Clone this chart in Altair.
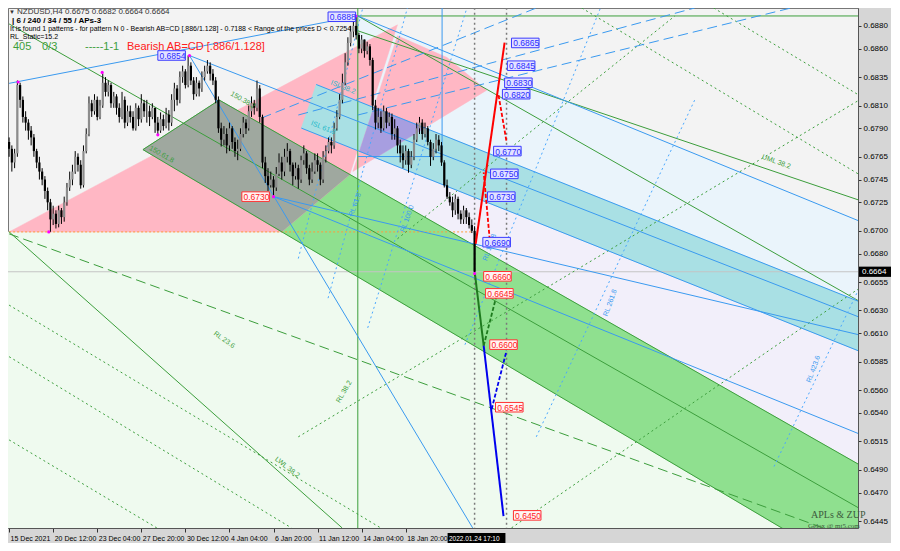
import altair as alt
import pandas as pd

# ---------------- candle data (price x 1e-4), H4 bars, index 0 = 15 Dec 2021 ----------------
FIRST_OPEN = 6778
CLOSE = [6772,6760,6768,6828,6815,6800,6795,6788,6782,6770,
         6760,6752,6745,6735,6725,6710,6715,6706,6718,6712,
         6725,6738,6745,6752,6765,6758,6740,6770,6785,6812,
         6805,6815,6800,6810,6830,6822,6828,6812,6818,6808,
         6800,6815,6795,6805,6800,6790,6808,6798,6812,6805,
         6805,6800,6808,6795,6788,6798,6792,6802,6795,6815,
         6825,6815,6835,6840,6828,6845,6832,6820,6830,6825,
         6835,6840,6845,6838,6832,6815,6790,6780,6785,6775,
         6790,6778,6770,6772,6785,6795,6790,6805,6812,6808,
         6825,6800,6760,6748,6740,6745,6738,6750,6760,6752,
         6765,6770,6758,6748,6755,6745,6762,6768,6755,6745,
         6752,6762,6758,6745,6765,6770,6778,6775,6790,6800,
         6815,6830,6848,6865,6875,6880,6872,6860,6868,6858,
         6862,6850,6810,6795,6800,6790,6805,6795,6800,6785,
         6790,6775,6768,6762,6770,6758,6765,6780,6790,6795,
         6785,6790,6778,6765,6772,6780,6775,6760,6740,6730,
         6725,6718,6728,6715,6710,6718,6712,6705,6700,6664]
HIGH = [6782,6775,6772,6832,6830,6818,6805,6798,6792,6785,
        6772,6765,6755,6748,6738,6728,6722,6718,6722,6720,
        6730,6742,6752,6758,6770,6768,6762,6775,6790,6818,
        6815,6820,6818,6815,6838,6835,6832,6830,6822,6820,
        6812,6822,6818,6810,6810,6805,6812,6810,6820,6815,
        6815,6810,6812,6808,6800,6804,6802,6808,6806,6820,
        6830,6828,6840,6845,6842,6854,6848,6835,6835,6832,
        6840,6845,6850,6848,6842,6835,6818,6795,6792,6790,
        6795,6792,6782,6780,6790,6800,6798,6810,6818,6815,
        6832,6828,6802,6765,6755,6752,6748,6756,6768,6765,
        6772,6777,6772,6760,6760,6758,6766,6775,6770,6758,
        6760,6768,6768,6760,6770,6775,6782,6782,6795,6806,
        6820,6838,6856,6870,6880,6884,6888,6874,6872,6868,
        6866,6864,6852,6815,6808,6805,6810,6808,6804,6803,
        6798,6792,6780,6775,6775,6772,6770,6785,6795,6800,
        6798,6795,6792,6780,6777,6785,6784,6778,6762,6745,
        6734,6730,6732,6730,6718,6722,6720,6716,6710,6704]
LOW = [6765,6752,6755,6765,6808,6795,6788,6780,6775,6765,
       6755,6745,6740,6728,6718,6699,6705,6702,6703,6706,
       6708,6722,6735,6740,6750,6752,6737,6738,6768,6783,
       6800,6802,6797,6798,6808,6818,6818,6808,6808,6802,
       6795,6798,6790,6792,6795,6788,6788,6792,6795,6800,
       6795,6792,6798,6786,6784,6786,6788,6790,6788,6792,
       6805,6810,6812,6830,6825,6826,6828,6815,6818,6818,
       6822,6832,6838,6832,6828,6812,6786,6774,6775,6768,
       6770,6772,6765,6762,6770,6782,6785,6788,6800,6802,
       6805,6795,6755,6742,6735,6738,6730,6735,6748,6745,
       6748,6760,6752,6740,6745,6737,6742,6758,6750,6740,
       6742,6750,6752,6740,6742,6760,6768,6768,6772,6788,
       6798,6812,6828,6845,6862,6870,6868,6856,6856,6852,
       6855,6845,6806,6789,6790,6786,6788,6790,6792,6780,
       6780,6768,6760,6755,6758,6751,6755,6762,6778,6785,
       6780,6782,6775,6757,6762,6768,6770,6757,6738,6728,
       6722,6712,6714,6710,6706,6706,6706,6702,6698,6660]

# ---------------- axes ----------------
Y_TICKS = [0.6880, 0.6860, 0.6835, 0.6810, 0.6790, 0.6765, 0.6745, 0.6725, 0.6700, 0.6680,
           0.6655, 0.6630, 0.6610, 0.6585, 0.6560, 0.6540, 0.6515, 0.6490, 0.6470, 0.6445]
X_TICK_BARS = [0, 16, 32, 48, 64, 80, 96, 112, 128, 144]
X_TICK_LABELS = ["15 Dec 2021", "20 Dec 12:00", "23 Dec 04:00", "27 Dec 20:00", "30 Dec 12:00",
                 "4 Jan 04:00", "6 Jan 20:00", "11 Jan 12:00", "14 Jan 04:00", "18 Jan 20:00"]
LAST_PRICE = 0.6664
CURSOR_TIME = "2022.01.24 17:10"
CURSOR_BARS = (159.2, 180.2)
X_DOMAIN = [-0.4, 308.2]
Y_DOMAIN = [0.64389, 0.68957]

# ---------------- filled zones (bar, price) ----------------
ZONE_PALEGREEN = [(-1, 0.6699), (98.9, 0.6699), (308.6, 0.63987), (-1, 0.63987)]
ZONE_LAVENDER = [(106.1, 0.67902), (308.6, 0.65943), (308.6, 0.64946), (106.1, 0.67735)]
ZONE_LIGHTBLUE = [(126.6, 0.68887), (308.6, 0.67086), (308.6, 0.66378), (126.6, 0.68139)]
ZONE_BAND = [(76.3, 0.68148), (308.6, 0.64946), (308.6, 0.63987), (48.6, 0.67713)]
ZONE_PINK1 = [(0, 0.6699), (141.0, 0.68809), (123.7, 0.67495), (98.9, 0.6699)]
ZONE_GRAY = [(48.6, 0.67713), (76.3, 0.68148), (123.7, 0.67495), (98.9, 0.6699)]
ZONE_CYAN = [(111.5, 0.68285), (308.6, 0.66378), (308.6, 0.65943), (106.1, 0.67902)]
ZONE_PINK2 = [(124.8, 0.67521), (141.0, 0.68713), (159.0, 0.68522), (173.4, 0.68235)]
ZONE_PURPLE = [(127.2, 0.67698), (133.1, 0.67641), (150.9, 0.67904), (132.4, 0.68082)]

# ---------------- lines (bar1, price1, bar2, price2) ----------------
GREEN_SOLID = [(0, 0.68817, 308.6, 0.64563), (76.3, 0.68148, 308.6, 0.64946),
               (48.6, 0.67713, 308.6, 0.63987), (48.6, 0.67713, 76.3, 0.68148),
               (0, 0.6699, 120.9, 0.6439), (126.6, 0.68757, 308.6, 0.67269),
               (126.6, 0.68887, 308.6, 0.66382), (126.6, 0.68887, 308.6, 0.68887),
               (126.6, 0.6896, 126.6, 0.6438)]
GREEN_LONGDASH = [(0, 0.66973, 308.6, 0.64276)]
GREEN_DOTTED = [(255.8, 0.68957, 308.6, 0.68191), (207.9, 0.68957, 308.6, 0.67495),
                (0, 0.65163, 53.6, 0.6439), (0, 0.65894, 102.5, 0.6439), (0, 0.66347, 134.9, 0.6439),
                (105.0, 0.6519, 308.6, 0.68148), (182.4, 0.6439, 308.6, 0.66494),
                (141.0, 0.6693, 241.7, 0.68887)]
BLUE_SOLID = [(126.6, 0.68887, 308.6, 0.67086), (65.5, 0.68539, 308.6, 0.66242),
              (65.5, 0.68539, 168.3, 0.6439), (96.0, 0.6730, 308.6, 0.65216),
              (96.0, 0.6730, 308.6, 0.66086), (111.5, 0.68285, 308.6, 0.66378),
              (106.1, 0.67902, 308.6, 0.65943), (157.2, 0.6896, 157.2, 0.67652),
              (126.6, 0.67652, 157.2, 0.67652), (0, 0.68295, 126.6, 0.68887)]
BLUE_LONGDASH = [(91.7, 0.67991, 191.4, 0.68957), (105.0, 0.68017, 248.9, 0.68957),
                 (126.6, 0.68017, 308.6, 0.69105)]
BLUE_DOTTED = [(105.0, 0.66756, 128.4, 0.68957), (115.8, 0.66408, 144.6, 0.68957),
               (130.2, 0.66147, 166.2, 0.68957), (165.5, 0.65999, 214.7, 0.68957),
               (191.4, 0.6519, 248.9, 0.68148), (277.7, 0.64929, 308.6, 0.66494)]
GRAY_DOTTED = [(169.0, 0.6896, 169.0, 0.6438), (180.6, 0.6896, 180.6, 0.6438)]
ORANGE_DOTTED = [(0, 0.6699, 168.0, 0.6699)]
PRICE_LINE = [(-1, 0.6664, 309, 0.6664)]
RED_SOLID = [(169.4, 0.66886, 179.9, 0.68652)]
RED_DASHED = [(174.5, 0.66921, 172.3, 0.67513), (177.7, 0.68191, 180.6, 0.67782)]
DKGREEN_SOLID = [(169.1, 0.66625, 172.3, 0.65990)]
DKGREEN_DASHED = [(172.3, 0.65990, 177.0, 0.66434)]
DKBLUE_SOLID = [(172.3, 0.65990, 179.5, 0.64494)]
DKBLUE_DASHED = [(175.2, 0.65433, 180.6, 0.65946)]

# ---------------- level boxes (left bar, price, text) ----------------
BLUE_BOXES = [(115.8, 0.6888, "0.6888"), (54.0, 0.6854, "0.6854"), (182.4, 0.6865, "0.6865"),
              (180.9, 0.6845, "0.6845"), (179.9, 0.6830, "0.6830"), (179.1, 0.6820, "0.6820"),
              (175.9, 0.6770, "0.6770"), (174.8, 0.6750, "0.6750"), (173.7, 0.6730, "0.6730"),
              (172.0, 0.6690, "0.6690")]
RED_BOXES = [(84.5, 0.6730, "0.6730"), (172.3, 0.6660, "0.6660"), (173.0, 0.6645, "0.6645"),
             (174.5, 0.6600, "0.6600"), (176.6, 0.6545, "0.6545"), (183.1, 0.6450, "0.6450")]
SWING_POINTS = [(3.3, 0.68307), (14.4, 0.6699), (33.8, 0.68391), (54.0, 0.67843),
                (65.5, 0.68539), (96.0, 0.6730), (125.9, 0.68887), (169.0, 0.66625)]

# ---------------- line captions (bar, price, text, angle, group) ----------------
CAPTIONS = [(80.6, 0.68208, "150.38.2", 30, "g"), (51.1, 0.6773, "150.61.8", 30, "g"),
            (273.4, 0.67652, "UML 38.2", 20, "g"), (96.8, 0.6500, "LWL 38.2", 38, "g"),
            (74.5, 0.66103, "RL 23.6", 35, "g"), (119.4, 0.65494, "RL 38.2", 300, "g"),
            (124.1, 0.6713, "RL 61.8", 290, "b"), (142.8, 0.6699, "RL 100.0", 290, "b"),
            (172.7, 0.66738, "RL 161.8", 290, "b"), (216.5, 0.66251, "RL 261.8", 290, "b"),
            (290.3, 0.65668, "RL 423.6", 290, "b"), (116.9, 0.68304, "ISL 38.2", 22, "c"),
            (109.7, 0.67947, "ISL 61.8", 22, "c")]

HEADER = ["▼", "NZDUSD,H4  0.6675 0.6682 0.6664 0.6664", "| 6 / 240 / 34 / 55 / APs-3",
          "It is found 1 patterns  -  for pattern N 0 - Bearish AB=CD [.886/1.128] - 0.7188 < Range of the prices D < 0.7254",
          "RL_Static=15.2"]
STATUS = ["405", "0/3", "-----1-1", "Bearish AB=CD [.886/1.128]"]
SIGNATURE = ["APLs & ZUP", "Gelox @ mt5.com"]

# =====================================================================
W, H = 850, 520
FONT = "Liberation Sans"
CAPTION_COLORS = {"g": "#3c9e3c", "b": "#3a9af0", "c": "#20b8c8"}
CANDLE_COLORS = {"up": "#8c8c8c", "down": "#000000"}

label_expr = " : ".join(f"datum.value == {b} ? '{t}'" for b, t in zip(X_TICK_BARS, X_TICK_LABELS)) + " : ''"
XS = alt.Scale(domain=X_DOMAIN, nice=False, zero=False)
YS = alt.Scale(domain=Y_DOMAIN, nice=False, zero=False)
XAX = alt.Axis(values=X_TICK_BARS, labelExpr=label_expr, labelAlign="left", labelPadding=2,
               tickSize=4, grid=False, title=None, labelFontSize=7, labelFlush=False,
               labelOverlap=False, labelBound=False, labelOffset=1,
               domainColor="#555", tickColor="#333", labelColor="#000", labelFont=FONT)
YAX = alt.Axis(values=Y_TICKS, format=".4f", orient="right", tickSize=3, grid=False, title=None,
               labelFontSize=8, domainColor="#555", tickColor="#333", labelColor="#000",
               labelFont=FONT, labelPadding=2, labelOverlap=False)


def X(field="x"):
    return alt.X(f"{field}:Q", scale=XS, axis=XAX)


def Y(field="y"):
    return alt.Y(f"{field}:Q", scale=YS, axis=YAX)


layers = []


def zone(points, color):
    df = pd.DataFrame([{"x": p[0], "y": p[1], "k": i} for i, p in enumerate(points + [points[0]])])
    return alt.Chart(df).mark_line(fill=color, stroke=color, strokeWidth=0.5,
                                   clip=True).encode(x=X(), y=Y(), order="k:Q")


layers += [zone(ZONE_PALEGREEN, "#effaef"), zone(ZONE_LAVENDER, "#f2effa"),
           zone(ZONE_LIGHTBLUE, "#eaf4fb"), zone(ZONE_BAND, "#8fe08f"),
           zone(ZONE_PINK1, "#ffb7c4"), zone(ZONE_GRAY, "#9fa89f"),
           zone(ZONE_CYAN, "#a9e0e4"), zone(ZONE_PINK2, "#ffb7c4"),
           zone(ZONE_PURPLE, "#a79ee0")]


def lines(segs, color, width=1.0, dash=None):
    rows = []
    for j, s in enumerate(segs):
        rows.append({"id": j, "k": 0, "x": s[0], "y": s[1]})
        rows.append({"id": j, "k": 1, "x": s[2], "y": s[3]})
    kw = dict(color=color, strokeWidth=width, clip=True)
    if dash:
        kw["strokeDash"] = dash
    return alt.Chart(pd.DataFrame(rows)).mark_line(**kw).encode(
        x=X(), y=Y(), detail="id:N", order="k:Q")


layers += [lines(PRICE_LINE, "#c4c4c4", 1),
           lines(ORANGE_DOTTED, "#ff9a3c", 1, [2, 2]),
           lines(GREEN_SOLID, "#3c9e3c", 1),
           lines(GREEN_LONGDASH, "#3c9e3c", 1, [10, 5]),
           lines(GREEN_DOTTED, "#3c9e3c", 1, [2, 3]),
           lines(BLUE_SOLID, "#3a9af0", 1),
           lines(BLUE_LONGDASH, "#3a9af0", 1, [10, 5]),
           lines(BLUE_DOTTED, "#4aa8ff", 1, [2, 3]),
           lines(GRAY_DOTTED, "#7a7a7a", 1.5, [2, 3])]

# candles
opens = [FIRST_OPEN] + CLOSE[:-1]
crow = []
for i, (o, c, h, l) in enumerate(zip(opens, CLOSE, HIGH, LOW)):
    crow.append({"x": i, "o": o / 1e4, "c": c / 1e4, "h": max(h, o, c) / 1e4,
                 "l": min(l, o, c) / 1e4, "col": CANDLE_COLORS["up" if c >= o else "down"]})
cdf = pd.DataFrame(crow)
layers.append(alt.Chart(cdf).mark_rule(color="#000", strokeWidth=1).encode(
    x=X(), y=Y("l"), y2="h:Q"))
layers.append(alt.Chart(cdf).mark_rule(strokeWidth=2.2).encode(
    x=X(), y=Y("o"), y2="c:Q", color=alt.Color("col:N", scale=None)))

# projection lines
layers += [lines(RED_SOLID, "#ff0000", 2), lines(RED_DASHED, "#ff0000", 1.8, [4, 2]),
           lines(DKGREEN_SOLID, "#1e7a1e", 2), lines(DKGREEN_DASHED, "#1e7a1e", 1.8, [4, 2]),
           lines(DKBLUE_SOLID, "#0000ee", 2), lines(DKBLUE_DASHED, "#0000ee", 1.8, [4, 2])]

# swing points
sp = pd.DataFrame([{"x": a, "y": b} for a, b in SWING_POINTS])
layers.append(alt.Chart(sp).mark_point(filled=True, color="#ff00ff", size=10, opacity=1).encode(x=X(), y=Y()))

# captions
cap = pd.DataFrame([{"x": a, "y": b, "t": t, "ang": g, "col": CAPTION_COLORS[k]} for a, b, t, g, k in CAPTIONS])
layers.append(alt.Chart(cap).mark_text(fontSize=7, font=FONT, align="left", baseline="middle").encode(
    x=X(), y=Y(), text="t:N", angle=alt.Angle("ang:Q", scale=None),
    color=alt.Color("col:N", scale=None)))


def boxes(items, fill, stroke, tcol):
    df = pd.DataFrame([{"x": a, "x2": a + 10.0, "y": p - 0.00042, "y2": p + 0.00042,
                        "yc": p, "xt": a + 0.6, "t": t} for a, p, t in items])
    r = alt.Chart(df).mark_rect(fill=fill, stroke=stroke, strokeWidth=1).encode(
        x=X(), x2="x2:Q", y=Y(), y2="y2:Q")
    tx = alt.Chart(df).mark_text(color=tcol, fontSize=8.5, font=FONT, align="left", baseline="middle",
                                 dy=0.5).encode(x=X("xt"), y=Y("yc"), text="t:N")
    return [r, tx]


layers += boxes(BLUE_BOXES, "#e2e2ff", "#3a3aff", "#2a2aff")
layers += boxes(RED_BOXES, "#fff4f4", "#ff3030", "#ff2020")

# current price tag on the y axis
lp = pd.DataFrame([{"y": LAST_PRICE - 0.00045, "y2": LAST_PRICE + 0.00045, "yc": LAST_PRICE,
                    "t": f"{LAST_PRICE:.4f}"}])
layers.append(alt.Chart(lp).mark_rect(color="#000").encode(
    x=alt.value(W + 1), x2=alt.value(W + 33), y=Y(), y2="y2:Q"))
layers.append(alt.Chart(lp).mark_text(color="#fff", fontSize=8, font=FONT, align="left", baseline="middle").encode(
    x=alt.value(W + 4), y=Y("yc"), text="t:N"))

# cursor time tag on the x axis
ct = pd.DataFrame([{"x": CURSOR_BARS[0], "x2": CURSOR_BARS[1], "xt": CURSOR_BARS[0] + 0.5, "t": CURSOR_TIME}])
layers.append(alt.Chart(ct).mark_rect(color="#000").encode(
    x=X(), x2="x2:Q", y=alt.value(H + 5), y2=alt.value(H + 15)))
layers.append(alt.Chart(ct).mark_text(color="#fff", fontSize=6.5, font=FONT, align="left", baseline="middle").encode(
    x=X("xt"), y=alt.value(H + 10.5), text="t:N"))


def note(text, px, py, size, color, weight="normal", font=FONT):
    return alt.Chart(pd.DataFrame({"t": [text]})).mark_text(
        align="left", baseline="middle", fontSize=size, color=color, fontWeight=weight, font=font).encode(
        x=alt.value(px), y=alt.value(py), text="t:N")


layers += [note(HEADER[0], 1, 4, 6, "#333"), note(HEADER[1], 9, 4, 8, "#333"),
           note(HEADER[2], 4, 13, 8, "#000", "bold"), note(HEADER[3], 2, 21, 7, "#000"),
           note(HEADER[4], 2, 29, 7, "#000"),
           note(STATUS[0], 5, 39, 11, "#3c9e3c"), note(STATUS[1], 34, 39, 11, "#3c9e3c"),
           note(STATUS[2], 77, 39, 11, "#3c9e3c"), note(STATUS[3], 119, 39, 11, "#ff2020"),
           note(SIGNATURE[0], 803, 507, 10, "#3d5a3d", "normal", "Liberation Serif"),
           note(SIGNATURE[1], 800, 518, 7, "#3d5a3d", "normal", "Liberation Serif")]

chart = alt.layer(*layers).properties(
    width=W, height=H, background="#d6d6d6", padding=0
).configure_view(fill="#f3f3f3", stroke="#777", strokeWidth=1)

chart.save("out.html", embed_options={"renderer": "svg", "actions": False})
